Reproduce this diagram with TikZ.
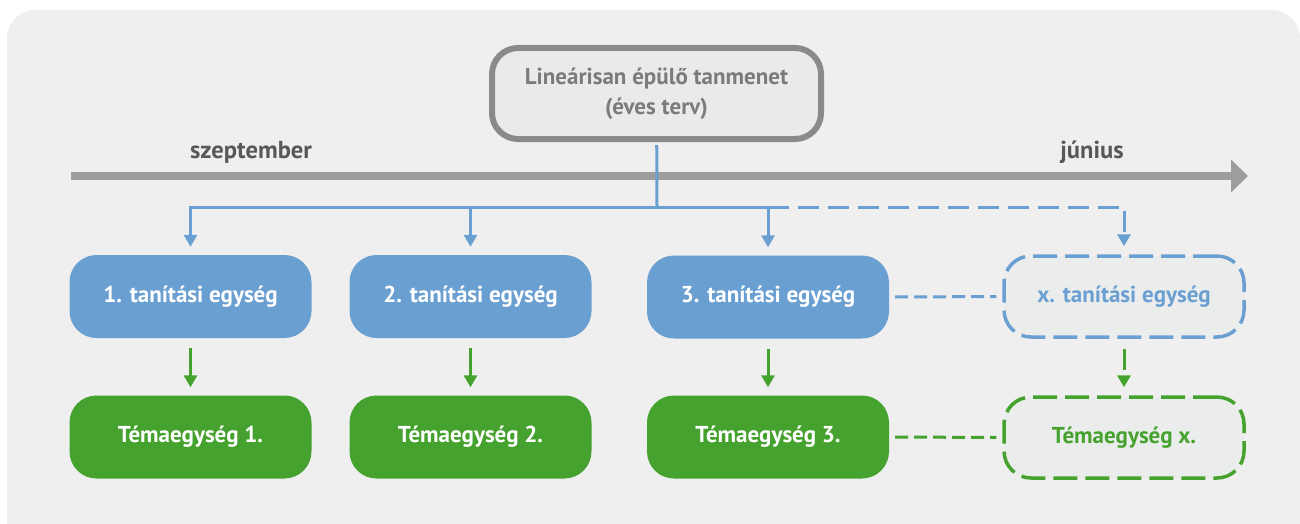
\documentclass[tikz,border=0pt]{standalone}
\usepackage{fontspec}
\setmainfont{PT Sans}
\usepackage{tikz}
\usetikzlibrary{arrows.meta, positioning}

\definecolor{unitblue}{HTML}{6A9FD2}
\definecolor{topicgreen}{HTML}{46A22E}
\definecolor{planborder}{HTML}{8A8A8A}
\definecolor{planfill}{HTML}{E9EAEA}
\definecolor{plantext}{HTML}{7B7B7B}
\definecolor{timegray}{HTML}{9D9D9E}
\definecolor{monthtext}{HTML}{58585A}
\definecolor{panelgray}{HTML}{EFEFEF}
\definecolor{ghostfill}{HTML}{EBEDED}

\begin{document}
\begin{tikzpicture}[
    x=1pt, y=-1pt,
    font=\bfseries\fontsize{23}{30}\selectfont,
    >={Triangle[width=13pt, length=12pt]},
    plan/.style={draw=planborder, line width=6pt, fill=planfill, rounded corners=26pt, minimum width=329pt, minimum height=91pt, inner sep=0pt, align=center, text=plantext},
    unit/.style={fill=unitblue, rounded corners=27pt, minimum width=242pt, minimum height=83pt, inner sep=0pt, text=white},
    topic/.style={unit, fill=topicgreen},
    ghostunit/.style={unit, fill=ghostfill, draw=unitblue, line width=3.5pt, minimum width=240pt, minimum height=81pt, dash pattern=on 24pt off 8pt, text=unitblue},
    ghosttopic/.style={ghostunit, draw=topicgreen, text=topicgreen},
    month/.style={anchor=base, text=monthtext, font=\bfseries\fontsize{24.5}{30}\selectfont},
    timeline/.style={-{Triangle[width=32pt, length=17pt]}, line width=8pt, timegray},
    link/.style={line width=3pt, unitblue},
    greenlink/.style={->, line width=3pt, topicgreen, shorten <=10pt, shorten >=8pt},
    longdash/.style={dash pattern=on 21pt off 9pt},
    shortdash/.style={dash pattern=on 13pt off 6pt, shorten <=6pt, shorten >=6pt}
]

% Panel
\clip (0,0) rectangle (1300,524);
\fill[panelgray, rounded corners=28pt] (7,10) rectangle (1300,580);

% Timeline
\coordinate (tstart) at (71,176);
\coordinate (tend) at (1248,176);
\draw[timeline] (tstart) -- (tend);
\node[month] (sep) at (251,158) {szeptember};
\node[month] (jun) at (1092,158) {június};

% Nodes
\node[plan] (plan) at (656.5,93.5) {Lineárisan épülő tanmenet\\(éves terv)};

\node[unit] (unit1) at (190.5,296.5) {1. tanítási egység};
\node[unit] (unit2) at (470.5,296.5) {2. tanítási egység};
\node[unit] (unit3) at (768,297) {3. tanítási egység};
\node[ghostunit] (unitx) at (1124,296.5) {x. tanítási egység};

\node[topic] (topic1) at (190.5,437) {Témaegység 1.};
\node[topic] (topic2) at (470.5,437) {Témaegység 2.};
\node[topic] (topic3) at (768,437) {Témaegység 3.};
\node[ghosttopic] (topicx) at (1124,437.5) {Témaegység x.};

% Arrows
\coordinate (split) at (657,207);
\coordinate (branch) at (split -| unit3);
\draw[link, shorten <=3pt] (plan) -- (split);
\draw[link, ->, shorten >=8pt] (split) -| (unit1);
\draw[link, ->, shorten >=8pt] (split) -| (unit2);
\draw[link, ->, shorten >=8pt] (split) -| (unit3);
\draw[link, longdash, ->, shorten >=8pt] (branch) -| (unitx);

\draw[greenlink] (unit1) -- (topic1);
\draw[greenlink] (unit2) -- (topic2);
\draw[greenlink] (unit3) -- (topic3);
\draw[greenlink, longdash] (unitx) -- (topicx);

\draw[link, shortdash] (unit3) -- (unitx);
\draw[link, topicgreen, shortdash] (topic3) -- (topicx);

\end{tikzpicture}
\end{document}
